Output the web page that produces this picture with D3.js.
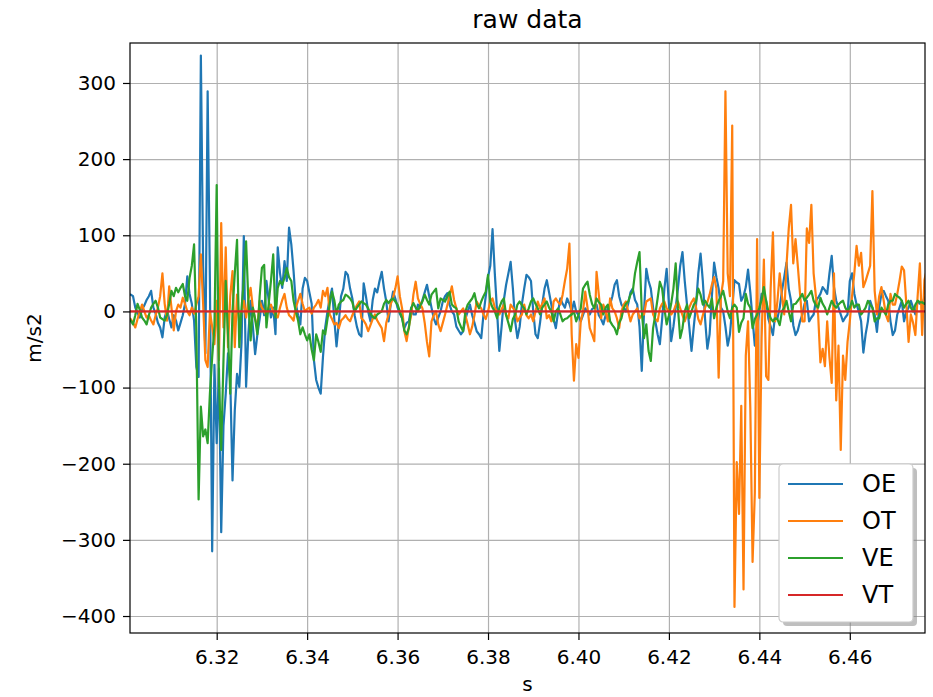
<!DOCTYPE html>
<html>
<head>
<meta charset="utf-8">
<script src="https://cdn.jsdelivr.net/npm/d3@7"></script>
<style>
  body { margin: 0; background: #fff; }
  svg { display: block; font-family: "DejaVu Sans", sans-serif; }
</style>
</head>
<body>
<svg id="chart" width="933" height="697"></svg>
<script>
// Sampling of the recording (2 kHz)
const t0 = 6.3;
const dt = 0.0005;

const seriesNames = ["OE", "OT", "VE", "VT"];
const seriesColors = ["#1f77b4", "#ff7f0e", "#2ca02c", "#d62728"];

// one row = 10 ms
const oeValues = [
  18, 22, 22, 20, 5, -2, -8, 3, 8, 15, 20, 27, 5, -3, -15, -21, -34, -8, 2, -10,
  -21, -5, -12, -25, -15, -5, 10, 46, 23, 10, -12, -73, -86, 336, 60, -55, 289, 40, -315, -70,
  -173, -75, -290, -150, -108, -55, -90, -222, -130, -82, -99, -40, 99, -99, -30, 14, -20, -56, -30, -10,
  14, -5, 40, 15, -8, 5, -30, 84, 50, 31, 66, 40, 110, 88, 53, 10, -5, -17, 30, 44,
  40, 25, 10, -64, -90, -100, -108, -60, -21, 0, 17, 30, -10, -46, -15, 20, 30, 52, 48, 30,
  17, -5, -20, -30, -33, 37, 20, 0, -13, 15, 30, 25, 40, 52, 30, 13, -13, 10, 26, 17,
  5, -3, -9, -22, -15, -13, 5, -4, -4, 9, 5, 15, 25, 35, 20, 5, -9, -17, -8, 0,
  13, 20, 24, 9, 0, -4, -20, -25, -30, -26, -10, 0, 9, -5, -15, -26, -30, -35, -4, 20,
  45, 60, 108, 50, 0, -52, -20, 15, 35, 50, 65, 30, -13, -35, -20, 10, 30, 48, 45, 40,
  0, -30, -35, -15, 10, 30, 41, 25, 9, -10, -22, 0, 17, 10, 5, 17, 10, 0, 13, 0,
  -5, -13, -5, 4, 0, -4, 3, 5, 9, -5, -10, -17, -5, 5, 9, 20, 35, 41, 20, 9,
  5, 0, 10, 25, 30, 15, 9, -20, -78, 0, 56, 40, 30, 5, -13, -30, -43, -10, 30, 56,
  10, -39, -20, 5, 30, 60, 78, 40, 9, -20, -52, -20, 9, 50, 76, 40, -10, -49, -30, 20,
  64, 45, 30, 5, 0, -20, -45, -30, 5, 41, 38, 36, 14, 20, 32, 55, 25, -10, -45, -20,
  0, 23, 18, 14, -10, -20, -31, -4, -9, 5, 27, 45, 64, 30, 14, -18, -31, -25, -13, -4,
  10, 14, -13, -8, -4, 14, 18, 23, 32, 28, 23, 50, 73, 32, 14, 5, -4, -13, -8, -4,
  40, 50, 23, 9, 0, -13, -54, -30, -13, 14, 5, -4, -27, 5, 23, 27, 20, 14, -13, -31,
  -25, -4, 5, 14, -13, 0, 5, 14, 5, -4, 14, 10, 9, 18, 20
];

const otValues = [
  -5, -8, -10, -15, -21, -10, 0, 9, 0, -8, -5, -12, -17, -5, 5, 20, 50, 10, -12, 33,
  5, -25, 0, 9, 5, 18, 10, 0, -5, 5, -3, 9, 20, 75, 10, -64, -73, 0, -20, -43,
  14, -64, 116, -21, 84, -47, 20, 53, -47, 22, -17, 0, 14, -8, 15, 31, 5, -10, -21, 14,
  5, 0, -5, 5, 9, 0, -5, -8, 5, 15, 23, 5, -5, -8, -12, 5, 14, 23, 10, 0,
  3, 5, -3, 5, 9, 15, 5, 27, 20, 31, -4, -10, -17, -15, -22, -12, -9, -5, -10, -13,
  -5, 2, 8, 13, -9, -12, -17, -26, -18, -10, -4, -12, -17, -22, -39, -15, -4, 10, 18, 30,
  46, 20, 4, -26, -39, -20, -5, 22, 39, 17, 10, 4, -15, -40, -59, -13, -5, 0, -17, -26,
  -15, -4, 8, 20, 33, 15, 4, -4, 0, 4, -5, -17, -30, -20, -5, 13, 8, 4, -4, -10,
  0, 13, 17, 5, 0, -4, 3, 9, -5, -9, 9, 5, 0, -13, -8, -4, 9, -5, -9, -4,
  -13, 0, 13, 4, 10, 17, -9, -5, -13, 13, 17, 12, 9, 22, 40, 56, 89, -30, -91, -43,
  -61, -13, 0, 26, 5, -22, -30, -39, 52, 22, -9, 9, 0, -13, 17, 4, 0, -9, -22, 0,
  9, 13, 0, -13, -4, 0, 4, -9, -5, -4, 13, 15, 17, -4, -10, -13, 4, 10, 13, 4,
  0, -4, 0, 8, 13, 4, -5, -13, -4, 5, 12, 17, 5, -10, -17, -5, 5, 12, 22, 35,
  45, 30, -87, 20, 40, 289, 50, 20, 244, -388, -198, -266, -124, -365, -58, -13, -126, -329, -238, 95,
  -245, -35, 68, -85, -90, 30, 104, -13, 14, 50, 20, -4, 60, 109, 140, 63, 95, 60, 23, -13,
  -13, 109, 90, 140, 50, 20, -4, -67, -49, -72, -13, -60, -94, 50, -117, -45, -182, -58, -90, -40,
  -13, 20, 50, 86, 60, 77, 32, 40, 50, 60, 158, 27, -4, 20, 32, 14, -5, -13, 23, 9,
  9, 23, 40, 59, 54, 10, -40, -4, -15, -31, 20, 63, -31, 41, 55
];

const veValues = [
  -5, -8, -12, -17, -5, 10, 2, -8, -12, -17, -5, 5, 10, 14, 5, -8, -10, -12, -5, 10,
  27, 20, 31, 25, 31, 36, 20, 14, 44, 60, 88, -25, -247, -125, -164, -155, -173, -108, -60, -20,
  166, -90, -182, -64, 40, -30, -108, 1, 50, 94, -47, 5, 40, 92, 14, -38, 5, -10, -30, 20,
  57, 61, -21, 10, 40, 75, -8, 31, 40, 35, 44, 57, 45, 40, 14, 0, -12, -30, -21, -30,
  -38, -30, -50, -64, -30, -40, -53, -25, -30, -10, 10, 26, 15, -4, 9, 13, 15, 22, 20, 17,
  12, 0, 5, 9, 13, 11, 9, 4, -3, -7, -9, -4, -2, 0, 10, 15, 11, 15, 17, 13,
  9, 0, -9, -25, -30, -22, 4, 11, 5, 0, 8, 13, 22, 15, 9, 22, 26, 30, 4, 17,
  15, 13, 20, 26, 9, 6, 4, -13, -20, -26, 0, 9, 13, 17, 24, 10, 4, 13, 20, 26,
  48, 13, 5, 0, -9, 5, 13, 17, -5, -15, -26, -10, -4, 9, 13, 8, 4, -4, 4, 13,
  17, 10, 4, -4, 5, 9, 13, 5, 0, -13, 0, 4, -4, -13, -10, -9, -6, -4, 0, -13,
  -5, 4, 30, 35, 39, 22, 10, 4, 17, 12, 9, -4, 5, 9, -13, -18, -22, -30, -15, -9,
  4, 10, 13, 22, 26, 50, 65, 78, 0, -35, -17, -52, -65, -22, -4, 17, 39, 30, 4, -17,
  -5, 10, 30, 63, 4, -35, -22, 0, 9, -9, 0, 9, 13, 30, 22, 9, 14, 9, 5, 17,
  -9, 5, 14, 20, 27, 14, 0, -9, 5, 9, 5, -27, -15, -9, 23, 10, 5, -22, -10, -4,
  5, 15, 32, 14, 0, -9, -13, -9, -10, -18, 0, 5, 14, 0, -13, 9, 10, 14, 18, 23,
  14, 18, 22, 27, 14, 8, 5, 18, 10, 5, -4, 5, 14, 8, 5, 9, 12, 14, 5, 0,
  5, 14, 5, 9, 9, -4, 0, 5, 14, 9, 5, -13, -9, -9, 5, 0, -4, 9, 14, 14,
  23, 20, 18, 14, 5, 10, 14, 5, 0, 9, 14, 12, 12, 10, 12
];

const vtValues = [
  0, 0, 0, 0, 0, 0, 0, 0, 0, 0, 0, 0, 0, 0, 0, 0, 0, 0, 0, 0,
  0, 0, 0, 0, 0, 0, 0, 0, 0, 0, 0, 0, 0, 0, 0, 0, 0, 0, 0, 0,
  0, 0, 0, 0, 0, 0, 0, 0, 0, 0, 0, 0, 0, 0, 0, 0, 0, 0, 0, 0,
  0, 0, 0, 0, 0, 0, 0, 0, 0, 0, 0, 0, 0, 0, 0, 0, 0, 0, 0, 0,
  0, 0, 0, 0, 0, 0, 0, 0, 0, 0, 0, 0, 0, 0, 0, 0, 0, 0, 0, 0,
  0, 0, 0, 0, 0, 0, 0, 0, 0, 0, 0, 0, 0, 0, 0, 0, 0, 0, 0, 0,
  0, 0, 0, 0, 0, 0, 0, 0, 0, 0, 0, 0, 0, 0, 0, 0, 0, 0, 0, 0,
  0, 0, 0, 0, 0, 0, 0, 0, 0, 0, 0, 0, 0, 0, 0, 0, 0, 0, 0, 0,
  0, 0, 0, 0, 0, 0, 0, 0, 0, 0, 0, 0, 0, 0, 0, 0, 0, 0, 0, 0,
  0, 0, 0, 0, 0, 0, 0, 0, 0, 0, 0, 0, 0, 0, 0, 0, 0, 0, 0, 0,
  0, 0, 0, 0, 0, 0, 0, 0, 0, 0, 0, 0, 0, 0, 0, 0, 0, 0, 0, 0,
  0, 0, 0, 0, 0, 0, 0, 0, 0, 0, 0, 0, 0, 0, 0, 0, 0, 0, 0, 0,
  0, 0, 0, 0, 0, 0, 0, 0, 0, 0, 0, 0, 0, 0, 0, 0, 0, 0, 0, 0,
  0, 0, 0, 0, 0, 0, 0, 0, 0, 0, 0, 0, 0, 0, 0, 0, 0, 0, 0, 0,
  0, 0, 0, 0, 0, 0, 0, 0, 0, 0, 0, 0, 0, 0, 0, 0, 0, 0, 0, 0,
  0, 0, 0, 0, 0, 0, 0, 0, 0, 0, 0, 0, 0, 0, 0, 0, 0, 0, 0, 0,
  0, 0, 0, 0, 0, 0, 0, 0, 0, 0, 0, 0, 0, 0, 0, 0, 0, 0, 0, 0,
  0, 0, 0, 0, 0, 0, 0, 0, 0, 0, 0, 0, 0, 0, 0
];

// Axis ticks
const xTicks = [6.32, 6.34, 6.36, 6.38, 6.40, 6.42, 6.44, 6.46];
const yTicks = [-400, -300, -200, -100, 0, 100, 200, 300];
const xDomain = [6.30083, 6.47663];
const yDomain = [-422.3, 352.5];

// Plot area (pixels)
const plot = {left: 130, right: 925, top: 43, bottom: 633};

const svg = d3.select("#chart");

const x = d3.scaleLinear().domain(xDomain).range([plot.left, plot.right]);
const y = d3.scaleLinear().domain(yDomain).range([plot.bottom, plot.top]);

const allSeries = [oeValues, otValues, veValues, vtValues];
const sampleTimes = d3.range(oeValues.length).map(i => t0 + i * dt);

// Grid
svg.append("g")
  .attr("class", "grid")
  .attr("transform", `translate(0,${plot.bottom})`)
  .call(d3.axisBottom(x).tickValues(xTicks).tickSize(-(plot.bottom - plot.top)).tickFormat(""))
  .call(g => g.select(".domain").remove());
svg.append("g")
  .attr("class", "grid")
  .attr("transform", `translate(${plot.left},0)`)
  .call(d3.axisLeft(y).tickValues(yTicks).tickSize(-(plot.right - plot.left)).tickFormat(""))
  .call(g => g.select(".domain").remove());
svg.selectAll(".grid line")
  .attr("stroke", "#b0b0b0")
  .attr("stroke-width", 1.2);

// Clip lines to the axes
svg.append("clipPath")
  .attr("id", "plotClip")
  .append("rect")
  .attr("x", plot.left)
  .attr("y", plot.top)
  .attr("width", plot.right - plot.left)
  .attr("height", plot.bottom - plot.top);

const line = d3.line()
  .x((d, i) => x(sampleTimes[i]))
  .y(d => y(d));

svg.append("g")
  .attr("clip-path", "url(#plotClip)")
  .selectAll("path")
  .data(allSeries)
  .join("path")
  .attr("d", d => line(d))
  .attr("fill", "none")
  .attr("stroke", (d, i) => seriesColors[i])
  .attr("stroke-width", 2.2)
  .attr("stroke-linejoin", "round");

// Axes with tick labels
const xAxis = svg.append("g")
  .attr("transform", `translate(0,${plot.bottom})`)
  .call(d3.axisBottom(x).tickValues(xTicks).tickFormat(d3.format(".2f")).tickSize(7).tickPadding(10));
const yAxis = svg.append("g")
  .attr("transform", `translate(${plot.left},0)`)
  .call(d3.axisLeft(y).tickValues(yTicks).tickFormat(d3.format("d")).tickSize(7).tickPadding(7));

[xAxis, yAxis].forEach(g => {
  g.select(".domain").remove();
  g.selectAll(".tick line").attr("stroke", "#000").attr("stroke-width", 1.2);
  g.selectAll(".tick text")
    .attr("fill", "#000")
    .style("font-size", "20px")
    .style("font-family", "DejaVu Sans, sans-serif");
});

// Frame
svg.append("rect")
  .attr("x", plot.left)
  .attr("y", plot.top)
  .attr("width", plot.right - plot.left)
  .attr("height", plot.bottom - plot.top)
  .attr("fill", "none")
  .attr("stroke", "#000")
  .attr("stroke-width", 1.2);

// Titles
svg.append("text")
  .attr("x", (plot.left + plot.right) / 2)
  .attr("y", 28)
  .attr("text-anchor", "middle")
  .style("font-size", "25px")
  .text("raw data");

svg.append("text")
  .attr("x", (plot.left + plot.right) / 2)
  .attr("y", 691)
  .attr("text-anchor", "middle")
  .style("font-size", "20px")
  .text("s");

svg.append("text")
  .attr("transform", `translate(41,${(plot.top + plot.bottom) / 2}) rotate(-90)`)
  .attr("text-anchor", "middle")
  .style("font-size", "20px")
  .text("m/s2");

// Legend
const legend = svg.append("g").attr("transform", "translate(779,464)");
legend.append("rect")
  .attr("x", 4).attr("y", 4)
  .attr("width", 134).attr("height", 158)
  .attr("rx", 4)
  .attr("fill", "#808080")
  .attr("opacity", 0.5);
legend.append("rect")
  .attr("width", 134).attr("height", 158)
  .attr("rx", 4)
  .attr("fill", "#fff")
  .attr("stroke", "#cccccc")
  .attr("stroke-width", 1.2);

const items = legend.selectAll(".item")
  .data(seriesNames)
  .join("g")
  .attr("class", "item")
  .attr("transform", (d, i) => `translate(0,${20 + i * 37})`);
items.append("line")
  .attr("x1", 9).attr("x2", 64)
  .attr("stroke", (d, i) => seriesColors[i])
  .attr("stroke-width", 2.2);
items.append("text")
  .attr("x", 83)
  .attr("dy", "0.35em")
  .style("font-size", "24px")
  .text(d => d);
</script>
</body>
</html>
